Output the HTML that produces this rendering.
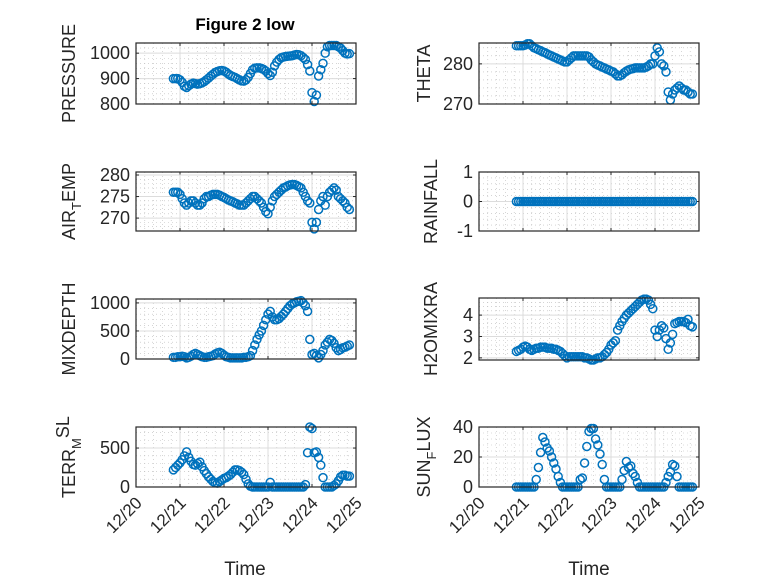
<!DOCTYPE html>
<html><head><meta charset="utf-8"><style>
body{margin:0;background:#fff}
svg{display:block;font-family:"Liberation Sans",sans-serif}
</style></head><body>
<svg id="fig" width="778" height="583" viewBox="0 0 778 583" xmlns="http://www.w3.org/2000/svg">
<rect width="778" height="583" fill="#fff"/>
<text x="245" y="30" text-anchor="middle" font-size="17" font-weight="bold" fill="#000">Figure 2 low</text>
<text x="245" y="575" text-anchor="middle" font-size="19" fill="#262626">Time</text>
<text x="589" y="575" text-anchor="middle" font-size="19" fill="#262626">Time</text>
</svg>
<script>
const times=[20.85,20.9,20.95,21.0,21.05,21.1,21.15,21.2,21.25,21.3,21.35,21.4,21.45,21.5,21.55,21.6,21.65,21.7,21.75,21.8,21.85,21.9,21.95,22.0,22.05,22.1,22.15,22.2,22.25,22.3,22.35,22.4,22.45,22.5,22.55,22.6,22.65,22.7,22.75,22.8,22.85,22.9,22.95,23.0,23.05,23.1,23.15,23.2,23.25,23.3,23.35,23.4,23.45,23.5,23.55,23.6,23.65,23.7,23.75,23.8,23.85,23.9,23.95,24.0,24.05,24.1,24.15,24.2,24.25,24.3,24.35,24.4,24.45,24.5,24.55,24.6,24.65,24.7,24.75,24.8,24.85];
const pressure=[900,900,900,895,885,870,865,872,878,882,880,878,880,883,888,895,902,910,917,924,928,931,932,930,925,918,912,908,905,900,895,891,890,895,905,920,935,941,942,942,940,936,930,920,912,925,950,965,975,982,985,987,988,989,990,993,995,994,990,983,975,955,930,845,810,835,910,935,960,1000,1025,1030,1030,1030,1030,1025,1020,1010,1000,997,998];
const airTemp=[276,276,276,275.5,274.5,273.5,273,273.5,274,274,273.5,273,273,273.5,274.5,275,275,275.3,275.5,275.5,275.5,275.3,275,274.8,274.5,274.2,274,273.8,273.5,273.3,273,273,273,273.5,274,274.5,275,275,274.5,274,273.5,272.5,271.5,271,272.5,274,275,275.5,276,276.5,277,277.2,277.5,277.7,277.8,277.8,277.6,277.3,277,276,275,274,273.5,269,267.5,269,272,274,275,273,275,276,276.5,277,276.5,275,274.5,274,273.5,272.5,272];
const mixDepth=[30,30,40,40,50,40,20,30,50,80,100,80,60,40,30,30,40,50,60,90,110,120,100,70,40,30,20,20,20,20,20,20,30,30,40,60,150,250,350,430,500,600,700,800,850,750,700,700,720,760,800,850,900,950,980,1000,1020,1030,1040,1000,950,850,350,80,100,60,20,80,150,250,300,350,330,280,200,150,170,200,210,230,250];
const terrMsl=[220,250,280,310,350,400,450,380,330,290,280,300,320,260,210,170,130,100,70,55,50,70,90,110,120,140,160,190,220,220,210,190,160,100,40,10,0,0,0,0,0,0,0,0,60,0,0,0,0,0,0,0,0,0,0,0,0,0,0,0,30,440,770,750,440,450,380,280,120,0,0,0,0,20,40,80,130,150,150,140,140];
const theta=[284.5,284.5,284.5,284.5,284.7,285,285,284.5,284,283.8,283.5,283.3,283,282.8,282.5,282.2,282,281.7,281.5,281.2,281,280.7,280.5,280.5,281,281.5,282,282,282,282,282,282,282,281.7,281,280.5,280,279.7,279.5,279.2,279,278.7,278.5,278.2,278,277.5,277,277,277.3,277.8,278.2,278.5,278.7,278.8,279,279,279,279,279,279.2,279.5,280,280,282,284,283,280,279.5,278,273,271,272.5,273.5,274,274.5,274,273.5,273.5,273,272.5,272.5];
const rainfall=[0,0,0,0,0,0,0,0,0,0,0,0,0,0,0,0,0,0,0,0,0,0,0,0,0,0,0,0,0,0,0,0,0,0,0,0,0,0,0,0,0,0,0,0,0,0,0,0,0,0,0,0,0,0,0,0,0,0,0,0,0,0,0,0,0,0,0,0,0,0,0,0,0,0,0,0,0,0,0,0,0];
const h2o=[2.3,2.35,2.4,2.5,2.55,2.5,2.4,2.35,2.4,2.45,2.45,2.5,2.5,2.5,2.45,2.45,2.45,2.4,2.4,2.35,2.3,2.2,2.1,2.0,2.05,2.05,2.05,2.05,2.05,2.05,2.05,2.0,2.0,1.95,1.9,1.9,1.95,2.0,2.0,2.05,2.15,2.25,2.4,2.6,2.7,2.8,3.3,3.5,3.7,3.85,4.0,4.1,4.2,4.3,4.4,4.5,4.6,4.7,4.75,4.75,4.7,4.5,4.3,3.3,3.0,3.3,3.5,3.4,2.9,2.4,2.7,3.1,3.6,3.65,3.7,3.7,3.7,3.65,3.8,3.5,3.45];
const sunFlux=[0,0,0,0,0,0,0,0,0,5,13,23,33,30,26,24,20,16,12,7,3,0,0,0,0,0,0,0,0,5,6,16,27,37,39,39,32,28,22,15,5,0,0,0,0,0,0,0,5,11,17,13,14,9,7,3,0,0,0,0,0,0,0,0,0,0,0,0,3,7,10,15,14,7,0,0,0,0,0,0,0];
const xTickLabels=["12/20","12/21","12/22","12/23","12/24","12/25"];
const xTicks=[20,21,22,23,24,25];

const NS="http://www.w3.org/2000/svg";
const svg=document.getElementById('fig');
function mk(tag,attrs,parent){const e=document.createElementNS(NS,tag);for(const k in attrs)e.setAttribute(k,attrs[k]);(parent||svg).appendChild(e);return e;}

const panels=[
 {name:'pressure',x0:136,y0:43,y1:104,ymin:800,ymax:1040,yt:[800,900,1000],ystep:20,data:pressure,label:['PRESSURE'],lx:75,bottom:false},
 {name:'theta',x0:479,y0:43,y1:104,ymin:270,ymax:285.2,yt:[270,280],ystep:2,data:theta,label:['THETA'],lx:430,bottom:false},
 {name:'air-temp',x0:136,y0:172,y1:231,ymin:267,ymax:280.7,yt:[270,275,280],ystep:1,data:airTemp,label:['AIR','T','EMP'],lx:75,bottom:false},
 {name:'rainfall',x0:479,y0:172,y1:231,ymin:-1,ymax:1,yt:[-1,0,1],ystep:0.2,data:rainfall,label:['RAINFALL'],lx:437,bottom:false},
 {name:'mixdepth',x0:136,y0:299,y1:359,ymin:0,ymax:1070,yt:[0,500,1000],ystep:100,data:mixDepth,label:['MIXDEPTH'],lx:75,bottom:false},
 {name:'h2omixra',x0:479,y0:298,y1:360,ymin:1.9,ymax:4.8,yt:[2,3,4],ystep:0.2,data:h2o,label:['H2OMIXRA'],lx:437,bottom:false},
 {name:'terr-msl',x0:136,y0:427,y1:487,ymin:0,ymax:770,yt:[0,500],ystep:100,data:terrMsl,label:['TERR','M','SL'],lx:75,bottom:true,sup:true},
 {name:'sun-flux',x0:479,y0:427,y1:487,ymin:0,ymax:40,yt:[0,20,40],ystep:4,data:sunFlux,label:['SUN','F','LUX'],lx:430,bottom:true}
];
const W=220;
panels.forEach(p=>{
 const g=mk('g',{});
 
 
 const xs=t=>p.x0+(t-20)/5*W;
 const ys=v=>p.y1-(v-p.ymin)/(p.ymax-p.ymin)*(p.y1-p.y0);
 for(let t=20;t<=25.001;t+=0.2){const x=xs(t);mk('line',{x1:x,x2:x,y1:p.y0,y2:p.y1,stroke:'#bbb','stroke-width':0.6,'stroke-dasharray':'1 3'},g);}
 for(let v=Math.ceil(p.ymin/p.ystep)*p.ystep;v<=p.ymax;v+=p.ystep){const y=ys(v);mk('line',{x1:p.x0,x2:p.x0+W,y1:y,y2:y,stroke:'#bbb','stroke-width':0.6,'stroke-dasharray':'1 3'},g);}
 xTicks.forEach((t,i)=>{const x=xs(t);
  mk('line',{x1:x,x2:x,y1:p.y0,y2:p.y1,stroke:'#dcdcdc','stroke-width':1},g);
  mk('line',{x1:x,x2:x,y1:p.y1,y2:p.y1-3,stroke:'#262626'},g);
  mk('line',{x1:x,x2:x,y1:p.y0,y2:p.y0+3,stroke:'#262626'},g);
  if(p.bottom){const tx=mk('text',{x:x+7,y:p.y1+17,'text-anchor':'end','font-size':17,fill:'#262626',transform:`rotate(-45 ${x+7} ${p.y1+17})`},g);
   
   
   tx.textContent=xTickLabels[i];}
 });
 p.yt.forEach(v=>{const y=ys(v);
  mk('line',{x1:p.x0,x2:p.x0+W,y1:y,y2:y,stroke:'#dcdcdc','stroke-width':1},g);
  mk('line',{x1:p.x0,x2:p.x0+3,y1:y,y2:y,stroke:'#262626'},g);
  mk('line',{x1:p.x0+W,x2:p.x0+W-3,y1:y,y2:y,stroke:'#262626'},g);
  const tx=mk('text',{x:p.x0-6,y:y+6,'text-anchor':'end','font-size':18,fill:'#262626'},g);
  
  
  tx.textContent=v;
 });
 const n=Math.min(times.length,p.data.length);
 for(let i=0;i<n;i++){const c=mk('circle',{cx:xs(times[i]),cy:ys(p.data[i]),r:4,fill:'none',stroke:'#0072BD','stroke-width':1.5},g);
  
  
 }
 mk('rect',{x:p.x0,y:p.y0,width:W,height:p.y1-p.y0,fill:'none',stroke:'#262626','stroke-width':1.2},g);
 const cy=(p.y0+p.y1)/2;
 const lb=mk('text',{x:p.lx,y:cy,'text-anchor':'middle','font-size':18,fill:'#262626',transform:`rotate(-90 ${p.lx} ${cy})`},g);
 
 
 if(p.label.length===1){lb.textContent=p.label[0];}
 else{const a=mk('tspan',{},lb);a.textContent=p.label[0];
  const b=mk('tspan',{dy:6,'font-size':13},lb);b.textContent=p.label[1];
  const c=mk('tspan',{dy:p.sup?-12:-6},lb);c.textContent=p.label[2];}
});
</script>
</body></html>
